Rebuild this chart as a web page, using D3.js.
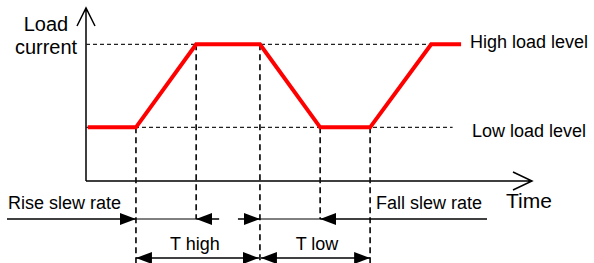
<!DOCTYPE html>
<html>
<head>
<meta charset="utf-8">
<script src="https://cdn.jsdelivr.net/npm/d3@7"></script>
<style>
  body { margin: 0; background: #fff; }
  text { font-family: "Liberation Sans", Arial, sans-serif; fill: #000; }
</style>
</head>
<body>
<div id="vis-holder"></div>
<script>
// Waveform breakpoints (time units) and load levels (0..1 of the y range)
const times  = [0.4, 11.2, 24.7, 39.0, 52.5, 63.7, 77.4, 84.1];
const levels = ["low", "low", "high", "high", "low", "low", "high", "high"];
const levelValues = { low: 0.31, high: 0.79 };
const levelLabels = { high: "High load level", low: "Low load level" };

// Vertical guide lines: which breakpoint, and which annotation row they reach
const guides = [
  { i: 1, row: 2 }, { i: 2, row: 1 }, { i: 3, row: 2 }, { i: 4, row: 1 }, { i: 5, row: 2 }
];

// Annotation labels
const slewLabels = ["Rise slew rate", "Fall slew rate"];
const periodLabels = ["T high", "T low"];

const width = 594, height = 263;
const margin = { top: 8, left: 86, right: 62, bottom: 82 };

const svg = d3.select("#vis-holder")
  .append("svg")
  .attr("width", width)
  .attr("height", height);

const defs = svg.append("defs");
defs.append("marker")
  .attr("id", "head")
  .attr("viewBox", "0 0 16 12")
  .attr("refX", 16).attr("refY", 6)
  .attr("markerWidth", 16).attr("markerHeight", 12)
  .attr("markerUnits", "userSpaceOnUse")
  .attr("orient", "auto-start-reverse")
  .append("path").attr("d", "M0,0L16,6L0,12Z").attr("fill", "#000");

// Scales
const x = d3.scaleLinear().domain([0, 100]).range([margin.left, width - margin.right]);
const y = d3.scaleLinear().domain([0, 1]).range([height - margin.bottom, margin.top]);

const x0 = x(0), y0 = y(0);
const row1 = 219, row2 = 258;

// Axes with open arrow heads
svg.append("path")
  .attr("d", `M${x0},${y0}V${y(1)}M${x0 - 9},${y(1) + 18}L${x0},${y(1)}L${x0 + 9},${y(1) + 18}`)
  .attr("fill", "none").attr("stroke", "#000").attr("stroke-width", 1.5);
svg.append("path")
  .attr("d", `M${x0},${y0}H${x(100)}M${x(100) - 19},${y0 - 9}L${x(100)},${y0}L${x(100) - 19},${y0 + 9}`)
  .attr("fill", "none").attr("stroke", "#000").attr("stroke-width", 1.5);

// Horizontal level guides
const levelEnds = { high: x(times[6]), low: x(82.2) };
Object.keys(levelValues).forEach((k) => {
  svg.append("line")
    .attr("x1", x0).attr("x2", levelEnds[k])
    .attr("y1", y(levelValues[k])).attr("y2", y(levelValues[k]))
    .attr("stroke", "#222").attr("stroke-width", 1.3)
    .attr("stroke-dasharray", "4,3");
});

// Vertical guides
svg.selectAll(".guide")
  .data(guides)
  .enter().append("line")
  .attr("class", "guide")
  .attr("x1", (d) => x(times[d.i])).attr("x2", (d) => x(times[d.i]))
  .attr("y1", (d) => y(levelValues[levels[d.i]]))
  .attr("y2", (d) => d.row === 1 ? row1 : height)
  .attr("stroke", "#111").attr("stroke-width", 1.7)
  .attr("stroke-dasharray", "6,4");

// Waveform
const line = d3.line()
  .x((d, i) => x(times[i]))
  .y((d) => y(levelValues[d]));
svg.append("path")
  .datum(levels)
  .attr("d", line)
  .attr("fill", "none")
  .attr("stroke", "#ff0000")
  .attr("stroke-width", 4)
  .attr("stroke-linejoin", "miter");

// Level labels
svg.append("text").attr("x", 470).attr("y", 48).attr("font-size", 18).text(levelLabels.high);
svg.append("text").attr("x", 472).attr("y", 137).attr("font-size", 18).text(levelLabels.low);

// Axis labels
svg.append("text").attr("x", 46).attr("y", 31).attr("font-size", 20).attr("text-anchor", "middle").text("Load");
svg.append("text").attr("x", 46).attr("y", 54).attr("font-size", 20).attr("text-anchor", "middle").text("current");
svg.append("text").attr("x", 506).attr("y", 208).attr("font-size", 21).text("Time");

// Row 1: slew rate arrows
const arrow = (x1, x2, yy, start, end) => {
  svg.append("line")
    .attr("x1", x1).attr("x2", x2).attr("y1", yy).attr("y2", yy)
    .attr("stroke", "#000").attr("stroke-width", 1.5)
    .attr("marker-start", start ? "url(#head)" : null)
    .attr("marker-end", end ? "url(#head)" : null);
};
arrow(7, x(times[1]), row1, false, true);
svg.append("line").attr("x1", x(times[1])).attr("x2", x(times[2]))
  .attr("y1", row1).attr("y2", row1).attr("stroke", "#000").attr("stroke-width", 1);
arrow(x(times[2]), x(times[2]) + 23, row1, true, false);
arrow(x(times[3]) - 22, x(times[3]), row1, false, true);
svg.append("line").attr("x1", x(times[3])).attr("x2", x(times[4]))
  .attr("y1", row1).attr("y2", row1).attr("stroke", "#000").attr("stroke-width", 1);
arrow(x(times[4]), 487, row1, true, false);

svg.append("text").attr("x", 8).attr("y", 209).attr("font-size", 18).text(slewLabels[0]);
svg.append("text").attr("x", 376).attr("y", 209).attr("font-size", 18).text(slewLabels[1]);

// Row 2: period arrows
arrow(x(times[1]), x(times[3]) - 1, row2, true, true);
arrow(x(times[3]) + 1, x(times[5]), row2, true, true);
svg.append("text").attr("x", (x(times[1]) + x(times[3])) / 2 - 3).attr("y", 250)
  .attr("font-size", 18).attr("text-anchor", "middle").text(periodLabels[0]);
svg.append("text").attr("x", (x(times[3]) + x(times[5])) / 2 + 2).attr("y", 250)
  .attr("font-size", 18).attr("text-anchor", "middle").text(periodLabels[1]);
</script>
</body>
</html>
